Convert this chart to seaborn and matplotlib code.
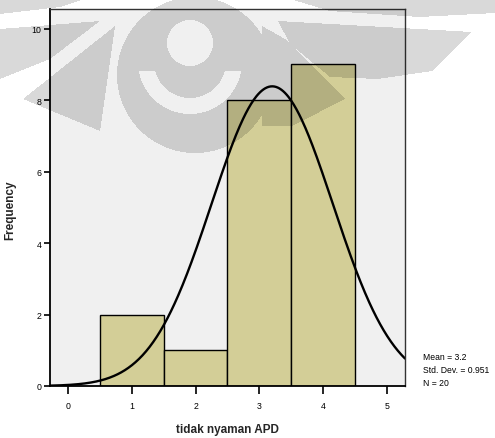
import numpy as np
import matplotlib
matplotlib.use("Agg")
import matplotlib.pyplot as plt
from matplotlib.path import Path
import seaborn as sns

# Frequency table of the item "tidak nyaman APD"
scores = [1, 2, 3, 4]
counts = [2, 1, 8, 9]
bin_edges = [0.5, 1.5, 2.5, 3.5, 4.5]
x_ticks = [0, 1, 2, 3, 4, 5]
y_ticks = [0, 2, 4, 6, 8, 10]
x_title = "tidak nyaman APD"
y_title = "Frequency"

sns.set_theme(style="ticks")
plt.rcParams["font.family"] = ["Liberation Sans", "DejaVu Sans"]

W, H = 495, 439
fig = plt.figure(figsize=(W / 100, H / 100), dpi=100)
fig.patch.set_facecolor("white")

ax = fig.add_axes([50 / W, 1 - 387 / H, 355 / W, 377 / H])
ax.set_facecolor("#f0f0f0")

sns.histplot(x=scores, weights=counts, bins=bin_edges, color="#d3ce97",
             edgecolor="black", linewidth=1.0, alpha=1.0, ax=ax)

# Fitted normal curve scaled to counts
vals = np.repeat(scores, counts)
n = len(vals)
mean = vals.mean()
sd = vals.std(ddof=1)
bw = bin_edges[1] - bin_edges[0]
xlo, xhi = -0.28, 5.28
xs = np.linspace(xlo, xhi, 400)
ys = n * bw * np.exp(-0.5 * ((xs - mean) / sd) ** 2) / (sd * np.sqrt(2 * np.pi))
sns.lineplot(x=xs, y=ys, color="black", linewidth=1.7, ax=ax)

ax.set_xlim(xlo, xhi)
ax.set_ylim(0, 10.55)
ax.set_xticks(x_ticks)
ax.set_yticks(y_ticks)
ax.tick_params(axis="x", length=5.5, width=1.2, labelsize=6.3, pad=5,
               colors="black")
ax.tick_params(axis="y", length=4.3, width=1.2, labelsize=6.3, pad=2,
               colors="black")
for side in ("left", "bottom"):
    ax.spines[side].set_color("black")
    ax.spines[side].set_linewidth(1.3)
for side in ("top", "right"):
    ax.spines[side].set_visible(True)
    ax.spines[side].set_color("#333333")
    ax.spines[side].set_linewidth(1.0)

ax.set_xlabel(x_title, fontsize=8.5, fontweight="bold")
ax.set_ylabel(y_title, fontsize=8.5, fontweight="bold")
ax.xaxis.set_label_coords(0.5, -0.098)
ax.yaxis.set_label_coords(-0.095, 0.47)

stats = [f"Mean = {mean:.1f}", f"Std. Dev. = {sd:.3f}", f"N = {n}"]
for i, s in enumerate(stats):
    fig.text(423 / W, 1 - (357.7 + 13 * i) / H, s, fontsize=6.2,
             ha="left", va="center", color="black")

# Translucent emblem printed over the page
yy, xx = np.mgrid[0:H, 0:W]
px = xx + 0.5
py = yy + 0.5
pts = np.column_stack([px.ravel(), py.ravel()])


def poly(vertices):
    return Path(vertices).contains_points(pts).reshape(H, W)


mask = np.zeros((H, W), dtype=bool)
mask |= (px - 195) ** 2 + (py - 76) ** 2 <= 78 ** 2
mask &= ~((px - 190) ** 2 + (py - 44) ** 2 <= 23 ** 2)
r_smile = np.sqrt((px - 190) ** 2 + (py - 63) ** 2)
mask &= ~((r_smile >= 36) & (r_smile <= 52) & (py > 72))
for verts in [
    [(0, 0), (85, 0), (60, 8), (0, 15)],
    [(0, 30), (100, 22), (50, 60), (0, 80)],
    [(23, 100), (115, 27), (100, 132)],
    [(290, 0), (495, 0), (495, 14), (420, 18), (330, 12)],
    [(278, 22), (472, 33), (432, 72), (378, 80), (330, 78), (290, 45)],
    [(262, 27), (285, 40), (345, 100), (292, 127), (262, 127)],
]:
    mask |= poly(verts)

overlay = np.zeros((H, W, 4))
overlay[..., 3] = mask * 0.15
ov = fig.add_axes([0, 0, 1, 1], zorder=10)
ov.imshow(overlay, extent=[0, W, H, 0], interpolation="nearest", aspect="auto")
ov.set_xlim(0, W)
ov.set_ylim(H, 0)
ov.axis("off")

fig.savefig("out.png", dpi=100)
